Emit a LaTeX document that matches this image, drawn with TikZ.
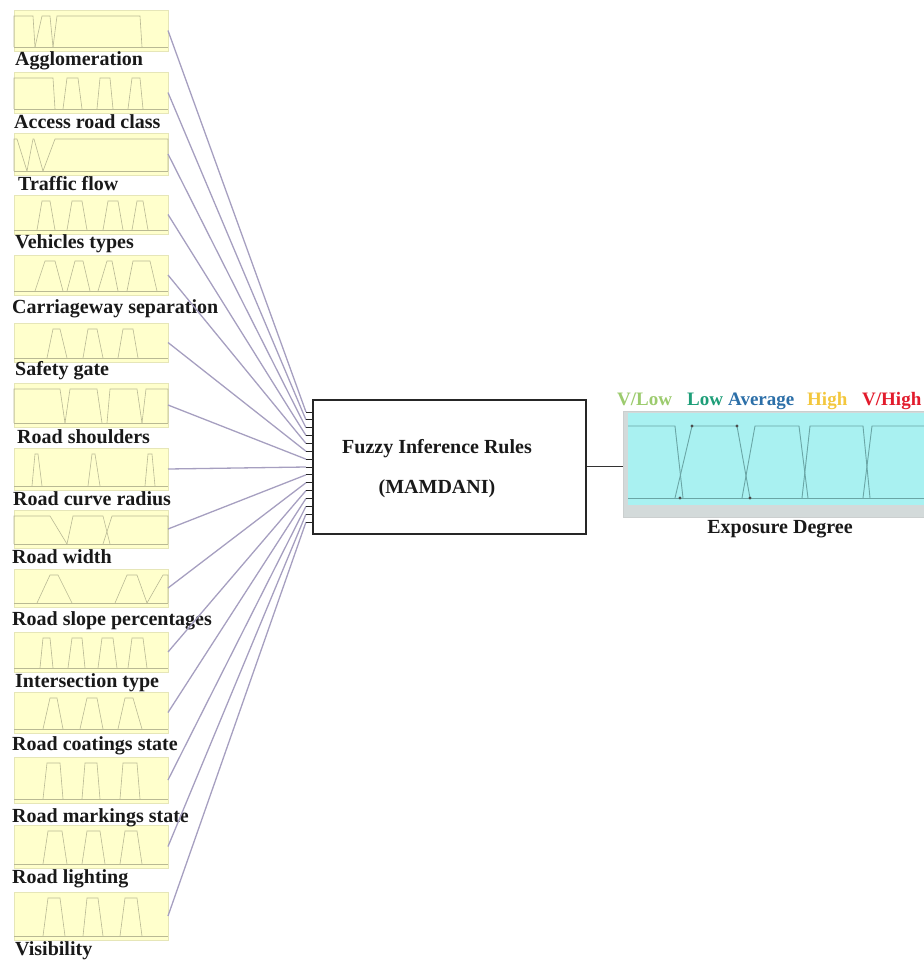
\documentclass[tikz,border=0pt]{standalone}
\usepackage{fontspec}
\setmainfont{Liberation Serif}
\definecolor{panelfill}{HTML}{FFFFCC}
\definecolor{paneledge}{HTML}{E6E6B8}
\definecolor{mfcol}{HTML}{B9B994}
\definecolor{conncol}{HTML}{A69FC0}
\definecolor{cyanfill}{HTML}{A9F1F1}
\definecolor{framegray}{HTML}{D3DADA}
\definecolor{outmf}{HTML}{6AA6A6}
\definecolor{cVLow}{HTML}{9CCB6E}
\definecolor{cLow}{HTML}{1E9E78}
\definecolor{cAvg}{HTML}{2C6FA8}
\definecolor{cHigh}{HTML}{F3C73E}
\definecolor{cVHigh}{HTML}{E21B2C}
\tikzset{
  panel/.style={draw=paneledge, fill=panelfill, line width=0.8, minimum width=154, inner sep=0, outer sep=0, anchor=north west},
  mf/.style={draw=mfcol, line width=0.6},
  conn/.style={draw=conncol, line width=1.3},
  lab/.style={inner sep=0, anchor=base west, font=\bfseries\fontsize{20}{23}\selectfont, text=black!90},
  boxtxt/.style={inner sep=0, anchor=base, font=\bfseries\fontsize{20}{23}\selectfont, text=black!90},
  clab/.style={inner sep=0, anchor=base west, font=\bfseries\fontsize{19}{22}\selectfont},
}
\newcommand\mypanel[4]{%
  \node[panel, minimum height={#3-#2}] (p#1) at (14,#2) {};
  \foreach \a/\b/\c/\d in {#4} {\draw[mf] (14+\a,#3-4) -- (14+\b,#2+6) -- (14+\c,#2+6) -- (14+\d,#3-4);}
  \draw[mf] (14,#3-4) -- (168,#3-4);
}
\begin{document}
\begin{tikzpicture}[x=1pt,y=-1pt]
\useasboundingbox (0,0) rectangle (924,962);
% input panels
\mypanel{1}{10}{51}{0/0/19/21, 21/28/36/39, 39/43/126/128}
\mypanel{2}{72}{113}{0/0/39/41, 49/53/64/68, 83/86/96/99, 114/118/126/129}
\mypanel{3}{133}{175}{0/0/3/13, 13/19/20/29, 29/41/154/154}
\mypanel{4}{195}{234}{23/28/36/41, 53/58/68/73, 89/94/104/109, 118/123/129/134}
\mypanel{5}{255}{295}{21/31/41/49, 53/61/69/76, 84/93/98/104, 113/119/136/143}
\mypanel{6}{323}{362}{33/39/46/53, 69/74/83/89, 104/109/119/124}
\mypanel{7}{383}{427}{0/0/46/51, 51/56/83/88, 93/96/123/128, 128/132/154/154}
\mypanel{8}{448}{490}{18/21/24/28, 74/78/81/86, 131/134/138/141}
\mypanel{9}{510}{548}{0/0/36/53, 53/59/89/96, 89/98/154/154}
\mypanel{10}{569}{607}{23/36/44/58, 101/113/123/133, 133/149/154/154}
\mypanel{11}{632}{672}{26/29/36/39, 54/58/68/71, 84/88/99/103, 114/118/129/133}
\mypanel{12}{692}{733}{29/36/43/49, 66/73/83/89, 104/111/119/128}
\mypanel{13}{757}{803}{29/33/46/49, 68/71/83/86, 106/109/123/126}
\mypanel{14}{825}{868}{29/34/48/53, 68/73/86/91, 106/111/123/128}
\mypanel{15}{892}{940}{29/34/46/51, 69/73/84/89, 106/111/123/128}
% labels
\node[lab] (l1) at (15,65) {Agglomeration};
\node[lab] (l2) at (14,128) {Access road class};
\node[lab] (l3) at (18,190) {Traffic flow};
\node[lab] (l4) at (15,248) {Vehicles types};
\node[lab] (l5) at (12,313) {Carriageway separation};
\node[lab] (l6) at (15,375) {Safety gate};
\node[lab] (l7) at (17,443) {Road shoulders};
\node[lab] (l8) at (13,505) {Road curve radius};
\node[lab] (l9) at (12,563) {Road width};
\node[lab] (l10) at (12,625) {Road slope percentages};
\node[lab] (l11) at (15,687) {Intersection type};
\node[lab] (l12) at (12,750) {Road coatings state};
\node[lab] (l13) at (12,822) {Road markings state};
\node[lab] (l14) at (12,883) {Road lighting};
\node[lab] (l15) at (15,955) {Visibility};
% central box
\node[draw=black!85, line width=1.6, minimum width=273, minimum height=134, inner sep=0, anchor=north west] (fis) at (312,399) {};
\node[boxtxt] (fist) at (437,453) {Fuzzy Inference Rules};
\node[boxtxt] (fism) at (437,493) {(MAMDANI)};
% ticks and connectors
\foreach \i in {1,...,15} {
  \coordinate (t\i) at (306,{412+(\i-1)*7.857});
}
\foreach \i in {1,...,15} {
  \draw[conn] (p\i.east) -- (t\i);
  \draw[black!85, line width=1] (t\i) -- ++(6,0);
}
% output panel
\node[fill=framegray, draw=framegray!80!black!60, line width=0.5, minimum width=301, minimum height=106, inner sep=0, anchor=north west] (out) at (623,411) {};
\fill[cyanfill] (628,413) rectangle (924,505);
\draw[outmf, line width=0.5] (628,498) -- (924,498);
\draw[outmf, line width=0.9] (628,426) -- (675,426) -- (683,498);
\draw[outmf, line width=0.9] (675,498) -- (692,426) -- (737,426) -- (750,498);
\draw[outmf, line width=0.9] (742,498) -- (755,426) -- (799,426) -- (808,498);
\draw[outmf, line width=0.9] (802,498) -- (810,426) -- (863,426) -- (870,498);
\draw[outmf, line width=0.9] (863,498) -- (872,426) -- (924,426);
\foreach \p in {(692,426),(737,426),(680,498),(750,498)} \fill[black!70] \p circle (1.6);
\draw[black!80, line width=1] (fis.east) -- (fis.east -| out.west);
% output labels
\node[clab, text=cVLow] (o1) at (617,405) {V/Low};
\node[clab, text=cLow] (o2) at (687,405) {Low};
\node[clab, text=cAvg] (o3) at (728,405) {Average};
\node[clab, text=cHigh] (o4) at (807,405) {High};
\node[clab, text=cVHigh] (o5) at (862,405) {V/High};
\node[boxtxt] (expo) at (780,533) {Exposure Degree};
\end{tikzpicture}
\end{document}
